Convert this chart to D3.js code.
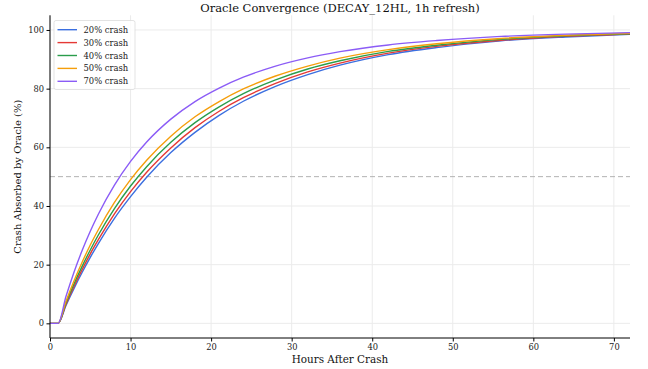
<!DOCTYPE html>
<html>
<head>
<meta charset="utf-8">
<script src="https://cdn.jsdelivr.net/npm/d3@7"></script>
<style>
  body { margin: 0; background: #fff; }
  svg text { font-family: "DejaVu Serif", serif; }
  .axis path, .axis line { stroke: #000; }
  .axis text { font-size: 8.3px; fill: #222; }
  .grid line { stroke: #ebebeb; }
</style>
</head>
<body>
<div id="chart"></div>
<script>
// Oracle convergence chart

var width = 648
var height = 369
var margin = { top: 15.3, right: 18, bottom: 31, left: 50 }

// data
const hours = [0, 1, 2, 3, 4, 5, 6, 8, 10, 12, 15, 18, 21, 24, 28, 32, 36, 42, 48, 56, 64, 72]
const crash20 = [0, 0, 6.2, 12.0, 17.4, 22.5, 27.2, 35.8, 43.2, 49.8, 58.2, 65.1, 70.9, 75.7, 80.8, 84.8, 88.0, 91.6, 94.0, 96.3, 97.6, 98.5]
const crash30 = [0, 0, 6.6, 12.7, 18.4, 23.7, 28.5, 37.3, 44.9, 51.5, 59.8, 66.7, 72.3, 76.9, 81.8, 85.7, 88.7, 92.1, 94.4, 96.5, 97.8, 98.6]
const crash40 = [0, 0, 7.1, 13.6, 19.5, 25.0, 30.1, 39.1, 46.8, 53.4, 61.7, 68.4, 73.8, 78.3, 83.0, 86.7, 89.5, 92.7, 94.8, 96.8, 98.0, 98.7]
const crash50 = [0, 0, 7.6, 14.6, 20.9, 26.7, 31.9, 41.2, 49.0, 55.6, 63.8, 70.4, 75.6, 79.9, 84.3, 87.7, 90.4, 93.3, 95.3, 97.1, 98.2, 98.9]
const crash70 = [0, 0, 9.3, 17.6, 24.9, 31.4, 37.2, 47.1, 55.2, 61.8, 69.6, 75.6, 80.2, 83.9, 87.7, 90.5, 92.6, 94.9, 96.4, 97.8, 98.6, 99.1]

const seriesNames = ['20% crash', '30% crash', '40% crash', '50% crash', '70% crash']
const seriesValues = [crash20, crash30, crash40, crash50, crash70]
const colors = ['#3b6fe0', '#e53935', '#2a9d4b', '#f59e0b', '#8b5cf6']

const xTicks = [0, 10, 20, 30, 40, 50, 60, 70]
const yTicks = [0, 20, 40, 60, 80, 100]
const refLine = 50

const xScale = d3.scaleLinear()
  .domain([0, 72])
  .range([margin.left, width - margin.right])

const yScale = d3.scaleLinear()
  .domain([-5, 105])
  .range([height - margin.bottom, margin.top])

const svg = d3.select('#chart')
  .append('svg')
  .attr('width', width)
  .attr('height', height)

// grid
svg.append('g')
  .attr('class', 'grid')
  .selectAll('line.v')
  .data(xTicks)
  .enter()
  .append('line')
  .attr('x1', d => xScale(d))
  .attr('x2', d => xScale(d))
  .attr('y1', yScale(-5))
  .attr('y2', yScale(105))

svg.select('.grid')
  .selectAll('line.h')
  .data(yTicks)
  .enter()
  .append('line')
  .attr('class', 'h')
  .attr('x1', xScale(0))
  .attr('x2', xScale(72))
  .attr('y1', d => yScale(d))
  .attr('y2', d => yScale(d))

// 50% reference
svg.append('line')
  .attr('x1', xScale(0))
  .attr('x2', xScale(72))
  .attr('y1', yScale(refLine))
  .attr('y2', yScale(refLine))
  .attr('stroke', '#b3b3b3')
  .attr('stroke-width', 1)
  .attr('stroke-dasharray', '5,3')

// lines
const line = d3.line()
  .x((d, i) => xScale(hours[i]))
  .y(d => yScale(d))
  .curve(d3.curveMonotoneX)

svg.append('g')
  .selectAll('path')
  .data(seriesValues)
  .enter()
  .append('path')
  .attr('d', d => line(d))
  .attr('fill', 'none')
  .attr('stroke', (d, i) => colors[i])
  .attr('stroke-width', 1.4)

// axes
const xAxis = d3.axisBottom(xScale).tickValues(xTicks).tickSize(3.5).tickPadding(2.5)
const yAxis = d3.axisLeft(yScale).tickValues(yTicks).tickSize(3.5).tickPadding(2.5)

svg.append('g')
  .attr('class', 'axis')
  .attr('transform', `translate(0, ${height - margin.bottom})`)
  .call(xAxis)
  .attr('font-family', 'DejaVu Serif')
  .call(g => g.select('.domain').attr('d', `M${xScale(0)},0H${xScale(72)}`))

svg.append('g')
  .attr('class', 'axis')
  .attr('transform', `translate(${margin.left}, 0)`)
  .call(yAxis)
  .attr('font-family', 'DejaVu Serif')
  .call(g => g.select('.domain').attr('d', `M0,${yScale(-5)}V${yScale(105)}`))

// title and labels
svg.append('text')
  .text('Oracle Convergence (DECAY_12HL, 1h refresh)')
  .attr('x', (xScale(0) + xScale(72)) / 2)
  .attr('y', 12)
  .attr('text-anchor', 'middle')
  .attr('font-size', '11.5px')
  .attr('fill', '#111')

svg.append('text')
  .text('Hours After Crash')
  .attr('x', (xScale(0) + xScale(72)) / 2)
  .attr('y', 363)
  .attr('text-anchor', 'middle')
  .attr('font-size', '10.4px')
  .attr('fill', '#111')

svg.append('text')
  .text('Crash Absorbed by Oracle (%)')
  .attr('transform', `translate(21, ${yScale(50)}) rotate(-90)`)
  .attr('text-anchor', 'middle')
  .attr('font-size', '10px')
  .attr('fill', '#111')

// legend
const legend = svg.append('g')
  .attr('transform', 'translate(54, 20.5)')

legend.append('rect')
  .attr('width', 81)
  .attr('height', 69)
  .attr('rx', 2)
  .attr('fill', '#fff')
  .attr('fill-opacity', 0.85)
  .attr('stroke', '#dcdcdc')
  .attr('stroke-width', 0.8)

legend.selectAll('line')
  .data(seriesNames)
  .enter()
  .append('line')
  .attr('x1', 3.5)
  .attr('x2', 23)
  .attr('y1', (d, i) => 9.2 + i * 12.9)
  .attr('y2', (d, i) => 9.2 + i * 12.9)
  .attr('stroke', (d, i) => colors[i])
  .attr('stroke-width', 1.4)

legend.selectAll('text')
  .data(seriesNames)
  .enter()
  .append('text')
  .attr('x', 29.5)
  .attr('y', (d, i) => 12.2 + i * 12.9)
  .attr('font-size', '8.4px')
  .attr('fill', '#222')
  .text(d => d)
</script>
</body>
</html>
